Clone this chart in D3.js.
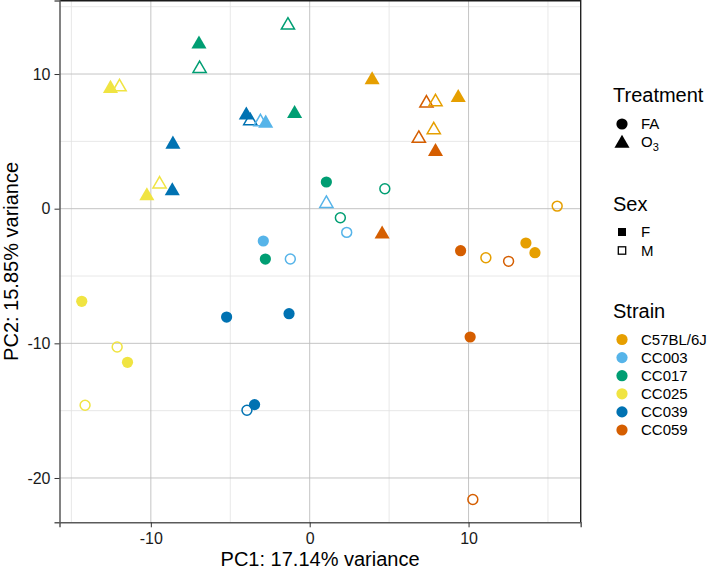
<!DOCTYPE html>
<html>
<head>
<meta charset="utf-8">
<script src="https://cdn.jsdelivr.net/npm/d3@7"></script>
<style>
  html, body { margin: 0; padding: 0; background: #fff; }
  svg { display: block; font-family: "Liberation Sans", Arial, sans-serif; }
</style>
</head>
<body>
<svg id="chart" width="714" height="570"></svg>
<script>
// ---- data ----
const strainNames = ["C57BL/6J", "CC003", "CC017", "CC025", "CC039", "CC059"];
const strainColors = ["#E69F00", "#56B4E9", "#009E73", "#F0E442", "#0072B2", "#D55E00"];
const treatmentNames = ["FA", "O3"];
const sexNames = ["F", "M"];

// one entry per sample
const sampleStrain = [
  "CC017","CC017","CC017","CC025","CC025","CC039","CC039","CC003","CC003","CC017",
  "CC039","CC025","CC039","CC025","C57BL/6J","CC059","C57BL/6J","C57BL/6J","C57BL/6J","CC059",
  "CC059","CC003","CC059",
  "CC003","CC017","CC003","CC017","CC017","C57BL/6J","CC017","CC003","CC059","C57BL/6J",
  "CC059","C57BL/6J","C57BL/6J","CC025","CC025","CC025","CC025","CC039","CC039","CC039",
  "CC039","CC059","CC059"
];
const sampleTreatment = [
  "O3","O3","O3","O3","O3","O3","O3","O3","O3","O3",
  "O3","O3","O3","O3","O3","O3","O3","O3","O3","O3",
  "O3","O3","O3",
  "FA","FA","FA","FA","FA","FA","FA","FA","FA","FA",
  "FA","FA","FA","FA","FA","FA","FA","FA","FA","FA",
  "FA","FA","FA"
];
const sampleSex = [
  "M","F","M","F","M","F","M","M","F","F",
  "F","M","F","F","F","M","M","F","M","M",
  "F","M","F",
  "F","F","M","F","M","M","M","M","F","M",
  "M","F","F","F","M","F","M","F","F","F",
  "M","F","M"
];
const pc1 = [
  -1.37,-6.97,-6.93,-12.54,-11.97,-3.99,-3.74,-3.10,-2.77,-0.95,
  -8.61,-9.45,-8.65,-10.25,3.93,7.35,7.92,9.35,7.81,6.87,
  7.92,1.05,4.56,
  -2.92,-2.79,-1.22,1.05,4.73,15.58,1.93,2.33,9.50,11.09,
  12.52,13.61,14.18,-14.35,-12.12,-11.47,-14.14,-5.23,-1.30,-3.47,
  -3.95,10.10,10.27
];
const pc2 = [
  13.62,12.21,10.40,8.92,9.04,6.94,6.52,6.44,6.34,7.06,
  4.78,1.82,1.32,0.95,9.56,7.83,7.93,8.25,5.85,5.21,
  4.24,0.38,-1.90,
  -2.40,-3.74,-3.74,1.98,1.48,0.19,-0.67,-1.76,-3.12,-3.64,
  -3.91,-2.55,-3.27,-6.88,-10.27,-11.41,-14.60,-8.05,-7.80,-14.55,
  -14.97,-9.53,-21.60
];
const xMajor = [-10, 0, 10];
const xMinor = [-15, -5, 5, 15];
const yMajor = [-20, -10, 0, 10];
const yMinor = [-15, -5, 5, 15];
const xTitle = "PC1: 17.14% variance";
const yTitle = "PC2: 15.85% variance";

// ---- layout ----
const svg = d3.select("#chart");
const P = { left: 59.5, right: 580.7, top: 0.5, bottom: 522.3 };
const x = d3.scaleLinear().domain([-15.75, 17.06]).range([P.left, P.right]);
const y = d3.scaleLinear().domain([-23.29, 15.46]).range([P.bottom, P.top]);
const color = d3.scaleOrdinal().domain(strainNames).range(strainColors);

const R = 5.6;
function triPath(r) {
  const top = 1.555 * r, half = 1.347 * r, base = 0.778 * r;
  return `M0,${-top}L${half},${base}L${-half},${base}Z`;
}

// grid
const g = svg.append("g");
g.selectAll(".xminor").data(xMinor).join("line")
  .attr("x1", d => x(d)).attr("x2", d => x(d)).attr("y1", P.top).attr("y2", P.bottom)
  .attr("stroke", "#e2e2e2").attr("stroke-width", 0.8);
g.selectAll(".yminor").data(yMinor).join("line")
  .attr("y1", d => y(d)).attr("y2", d => y(d)).attr("x1", P.left).attr("x2", P.right)
  .attr("stroke", "#e2e2e2").attr("stroke-width", 0.8);
g.selectAll(".xmajor").data(xMajor).join("line")
  .attr("x1", d => x(d)).attr("x2", d => x(d)).attr("y1", P.top).attr("y2", P.bottom)
  .attr("stroke", "#bdbdbd").attr("stroke-width", 0.9);
g.selectAll(".ymajor").data(yMajor).join("line")
  .attr("y1", d => y(d)).attr("y2", d => y(d)).attr("x1", P.left).attr("x2", P.right)
  .attr("stroke", "#bdbdbd").attr("stroke-width", 0.9);

// panel border: dark top/right
svg.append("line").attr("x1", P.left).attr("x2", P.right).attr("y1", 0.7).attr("y2", 0.7)
  .attr("stroke", "#1a1a1a").attr("stroke-width", 1.6);
svg.append("line").attr("x1", P.right).attr("x2", P.right).attr("y1", 0).attr("y2", P.bottom)
  .attr("stroke", "#222").attr("stroke-width", 1.4);

// axes
const xAxis = svg.append("g").attr("transform", `translate(0,${P.bottom})`)
  .call(d3.axisBottom(x).tickValues(xMajor).tickSize(5).tickPadding(5).tickFormat(d3.format("d")));
const yAxis = svg.append("g").attr("transform", `translate(${P.left},0)`)
  .call(d3.axisLeft(y).tickValues(yMajor).tickSize(5).tickPadding(4).tickFormat(d3.format("d")));
[xAxis, yAxis].forEach(a => {
  a.select(".domain").attr("stroke", "#5a5a5a").attr("stroke-width", 1.5);
  a.selectAll(".tick line").attr("stroke", "#333").attr("stroke-width", 1);
  a.selectAll(".tick text").attr("fill", "#1a1a1a").style("font-size", "16px")
    .style("font-family", '"Liberation Sans", Arial, sans-serif');
});
xAxis.selectAll(".tick text").text(d => d < 0 ? "-" + Math.abs(d) : d);
yAxis.selectAll(".tick text").text(d => d < 0 ? "-" + Math.abs(d) : d);

// axis titles
svg.append("text").attr("x", (P.left + P.right) / 2).attr("y", 566)
  .attr("text-anchor", "middle").style("font-size", "20px").attr("fill", "#000").text(xTitle);
svg.append("text").attr("transform", `translate(18,${(P.top + P.bottom) / 2}) rotate(-90)`)
  .attr("text-anchor", "middle").style("font-size", "20px").attr("fill", "#000").text(yTitle);

// points
const samples = pc1.map((v, i) => ({
  x: v, y: pc2[i], strain: sampleStrain[i], treat: sampleTreatment[i], sex: sampleSex[i]
}));
const pts = svg.append("g");
samples.forEach(d => {
  const c = color(d.strain);
  const filled = d.sex === "F";
  const node = pts.append("g").attr("transform", `translate(${x(d.x)},${y(d.y)})`);
  if (d.treat === "FA") {
    node.append("circle").attr("r", filled ? R : R - 0.65)
      .attr("fill", filled ? c : "none")
      .attr("stroke", filled ? "none" : c).attr("stroke-width", 1.5);
  } else {
    node.append("path").attr("d", triPath(filled ? R : R - 0.7))
      .attr("fill", filled ? c : "none")
      .attr("stroke", filled ? "none" : c).attr("stroke-width", 1.5)
      .attr("stroke-linejoin", "miter");
  }
});

// legend
const L = svg.append("g");
const symX = 622, labX = 641, labSize = "15px";
L.append("text").attr("x", 613).attr("y", 102).style("font-size", "20px").text("Treatment");
L.append("circle").attr("cx", symX).attr("cy", 124).attr("r", R).attr("fill", "#000");
L.append("text").attr("x", labX).attr("y", 124).attr("dy", "0.35em").style("font-size", labSize).text(treatmentNames[0]);
L.append("path").attr("transform", `translate(${symX},143.5)`).attr("d", triPath(R)).attr("fill", "#000");
const o3 = L.append("text").attr("x", labX).attr("y", 142).attr("dy", "0.35em").style("font-size", labSize);
o3.append("tspan").text(treatmentNames[1].charAt(0));
o3.append("tspan").attr("dy", "0.3em").style("font-size", "11px").text(treatmentNames[1].slice(1));

L.append("text").attr("x", 613).attr("y", 211).style("font-size", "20px").text("Sex");
L.append("rect").attr("x", symX - 4).attr("y", 232 - 4).attr("width", 8).attr("height", 8).attr("fill", "#000");
L.append("text").attr("x", labX).attr("y", 232).attr("dy", "0.35em").style("font-size", labSize).text(sexNames[0]);
L.append("rect").attr("x", symX - 3.7).attr("y", 250.5 - 3.7).attr("width", 7.4).attr("height", 7.4)
  .attr("fill", "none").attr("stroke", "#000").attr("stroke-width", 1.3);
L.append("text").attr("x", labX).attr("y", 250.5).attr("dy", "0.35em").style("font-size", labSize).text(sexNames[1]);

L.append("text").attr("x", 613).attr("y", 318).style("font-size", "20px").text("Strain");
strainNames.forEach((s, i) => {
  const yy = 339.5 + i * 18.1;
  L.append("circle").attr("cx", symX).attr("cy", yy).attr("r", R).attr("fill", color(s));
  L.append("text").attr("x", labX).attr("y", yy).attr("dy", "0.35em").style("font-size", labSize).text(s);
});
</script>
</body>
</html>
